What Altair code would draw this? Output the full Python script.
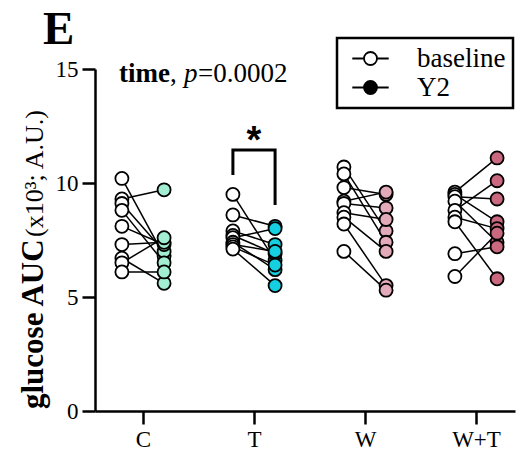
import altair as alt
import pandas as pd

groups = ["C", "T", "W", "W+T"]
C_base = [10.2, 9.3, 9.1, 8.8, 8.1, 7.3, 6.7, 6.5, 6.1]
C_y2 = [6.8, 9.7, 7.0, 6.5, 7.3, 7.4, 5.6, 7.6, 6.1]
T_base = [9.5, 8.6, 7.9, 7.7, 7.6, 7.4, 7.3, 7.2, 7.1]
T_y2 = [6.6, 8.1, 7.3, 6.9, 8.0, 6.2, 7.0, 6.4, 5.5]
W_base = [10.7, 10.4, 9.8, 9.2, 9.1, 8.7, 8.5, 8.2, 7.0]
W_y2 = [7.9, 7.4, 9.5, 9.6, 8.9, 8.4, 7.0, 5.5, 5.3]
WT_base = [9.6, 9.5, 9.4, 9.2, 8.8, 8.5, 8.3, 6.9, 5.9]
WT_y2 = [11.1, 8.3, 9.3, 7.4, 10.1, 8.0, 5.8, 7.2, 7.8]
y2_colors = ["#a3edd2", "#14d0e0", "#e3abb9", "#c9687f"]
time_labels = ["baseline", "Y2"]
bracket_y = [10.35, 11.45, 11.45, 9.04]
star_y = 11.3

base_lists = [C_base, T_base, W_base, WT_base]
y2_lists = [C_y2, T_y2, W_y2, WT_y2]
OFF = 0.19

rows = []
for gi, g in enumerate(groups):
    for j, (b, f) in enumerate(zip(base_lists[gi], y2_lists[gi])):
        sid = f"{g}-{j}"
        rows.append(dict(sid=sid, group=g, time="baseline", t=0, x=gi + 1 - OFF, y=b, fill="white"))
        rows.append(dict(sid=sid, group=g, time="Y2", t=1, x=gi + 1 + OFF, y=f, fill=y2_colors[gi]))
df = pd.DataFrame(rows)

brk = pd.DataFrame(dict(x=[2 - OFF, 2 - OFF, 2 + OFF, 2 + OFF], y=bracket_y, o=[0, 1, 2, 3]))
star = pd.DataFrame(dict(x=[2], y=[star_y], s=["*"]))

FONT = "Liberation Serif"
xscale = alt.Scale(domain=[0.5676, 4.3514], nice=False, zero=False)
yscale = alt.Scale(domain=[0, 15], nice=False)

xaxis = alt.Axis(values=[1, 2, 3, 4], labelExpr="['','C','T','W','W+T'][datum.value]",
                 title=None, grid=False, domainWidth=2.5, tickWidth=2.5, tickSize=13,
                 labelFontSize=23, labelFont=FONT, labelColor="black", domainColor="black",
                 tickColor="black", labelPadding=4)
yaxis = alt.Axis(values=[0, 5, 10, 15], title=None, grid=False, domainWidth=2.5, tickWidth=2.5,
                 tickSize=13, labelFontSize=23, labelFont=FONT, labelColor="black",
                 domainColor="black", tickColor="black", labelPadding=4)

X = alt.X("x:Q", scale=xscale, axis=xaxis)
Y = alt.Y("y:Q", scale=yscale, axis=yaxis)

lines = alt.Chart(df).mark_line(color="black", strokeWidth=1.5).encode(
    x=X, y=Y, detail="sid:N", order="t:Q")

points = alt.Chart(df).mark_point(shape="circle", filled=True, size=170, stroke="black",
                                   strokeWidth=1.8, fillOpacity=1, opacity=1).encode(
    x=X, y=Y, fill=alt.Fill("fill:N", scale=None))

sym = "M-2.8,0H-1 M1,0H2.8 M-1,0A1,1,0,1,1,1,0A1,1,0,1,1,-1,0Z"
legend_layer = alt.Chart(df).mark_point(shape="circle", filled=True, opacity=0).encode(
    x=X, y=Y,
    color=alt.Color("time:N", scale=alt.Scale(domain=time_labels, range=["white", "black"]),
                    legend=alt.Legend(title=None, orient="none", legendX=242, legendY=-31,
                                      symbolType=sym, symbolSize=169, symbolStrokeColor="black",
                                      symbolStrokeWidth=1.8, symbolOpacity=1, symbolOffset=13,
                                      labelOffset=33, labelFont=FONT, labelFontSize=27,
                                      labelColor="black", padding=7, rowPadding=1,
                                      strokeColor="black")))

bracket = alt.Chart(brk).mark_line(color="black", strokeWidth=3).encode(
    x=alt.X("x:Q", scale=xscale), y=alt.Y("y:Q", scale=yscale), order="o:Q")
star_t = alt.Chart(star).mark_text(font="Liberation Sans", fontWeight="bold", fontSize=38,
                                   baseline="alphabetic", align="center").encode(
    x=alt.X("x:Q", scale=xscale), y=alt.Y("y:Q", scale=yscale), text="s:N")

one = pd.DataFrame(dict(a=[0]))
def txt(s, x, y, **kw):
    return alt.Chart(one).mark_text(font=FONT, **kw).encode(
        x=alt.value(x), y=alt.value(y), text=alt.value(s))

anno = (txt("time", 24, 13, fontSize=27, fontWeight="bold", align="left", baseline="alphabetic")
        + txt(",", 75, 13, fontSize=27, align="left", baseline="alphabetic")
        + txt("p", 89, 13, fontSize=27, fontStyle="italic", align="left", baseline="alphabetic")
        + txt("=0.0002", 103, 13, fontSize=27, align="left", baseline="alphabetic"))

panel = txt("E", -52, -25, fontSize=47, fontWeight="bold", align="left", baseline="alphabetic")

ytitle = (txt("glucose AUC", -52, 340, fontSize=31, fontWeight="bold", angle=270,
              align="left", baseline="alphabetic")
          + txt("(x10³; A.U.)", -52, 168, fontSize=26, angle=270, align="left",
                baseline="alphabetic"))

chart = alt.layer(lines, points, legend_layer, bracket, star_t, anno, panel, ytitle).resolve_scale(
    color="independent", fill="independent").properties(
    width=420, height=342,
    autosize=alt.AutoSizeParams(type="none"),
    padding={"left": 95, "top": 69, "right": 6, "bottom": 44},
).configure_view(stroke=None).configure_legend(strokeWidth=2.5)

chart.save("out.html", embed_options={"renderer": "svg", "actions": False})
